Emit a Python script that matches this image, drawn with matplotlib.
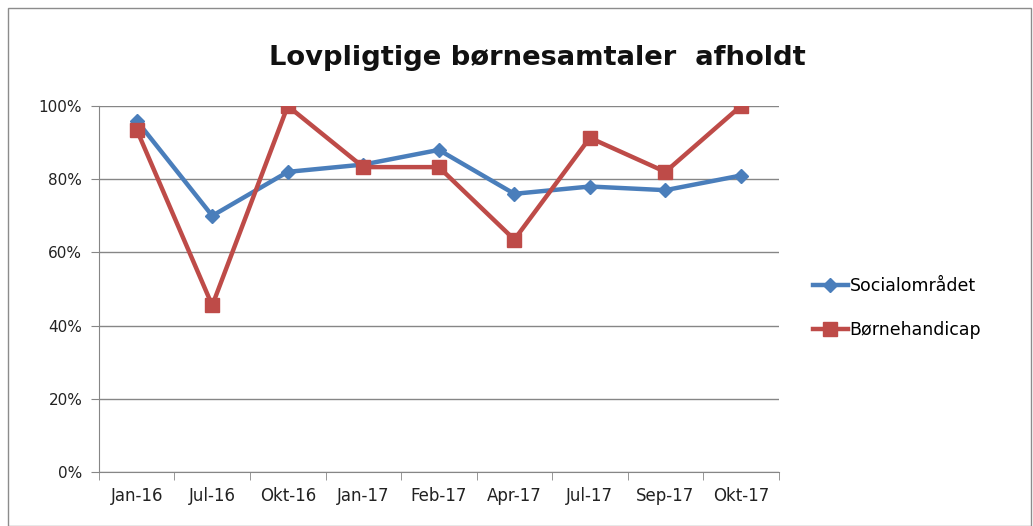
import matplotlib.pyplot as plt
import numpy as np
from matplotlib.patches import Rectangle
from matplotlib.ticker import FixedLocator, PercentFormatter

# data
maaneder = ["Jan-16", "Jul-16", "Okt-16", "Jan-17", "Feb-17", "Apr-17", "Jul-17", "Sep-17", "Okt-17"]
socialomraadet = [96, 70, 82, 84, 88, 76, 78, 77, 81]
boernehandicap = [93.5, 45.5, 100, 83.3, 83.3, 63.5, 91.3, 82, 100]
y_ticks = [0, 20, 40, 60, 80, 100]

blaa = "#4A7EBB"
roed = "#BE4B48"

fig = plt.figure(figsize=(10.33, 5.26), dpi=100)
fig.patches.append(Rectangle((0.008, 0.0), 0.99, 0.985, transform=fig.transFigure,
                             fill=False, edgecolor="#8C8C8C", lw=1))

ax = fig.add_axes([0.0958, 0.1027, 0.658, 0.6958])
x = np.arange(len(maaneder))

ax.plot(x, socialomraadet, color=blaa, lw=3.2, marker="D", ms=7.5,
        label="Socialområdet", zorder=3)
ax.plot(x, boernehandicap, color=roed, lw=3.2, marker="s", ms=10,
        label="Børnehandicap", zorder=4)

ax.set_xlim(-0.5, len(maaneder) - 0.5)
ax.set_ylim(0, 100)
ax.set_yticks(y_ticks)
ax.yaxis.set_major_formatter(PercentFormatter(decimals=0))
ax.set_xticks(x)
ax.set_xticklabels(maaneder)
ax.xaxis.set_minor_locator(FixedLocator(np.arange(-0.5, len(maaneder), 1)))
ax.tick_params(axis="x", which="major", length=0, pad=11, labelsize=12, colors="#222222")
ax.tick_params(axis="x", which="minor", length=6, color="#868686", direction="out")
ax.tick_params(axis="y", length=6, color="#868686", labelsize=11, labelcolor="#222222", pad=6)

ax.grid(axis="y", color="#868686", lw=1)
ax.set_axisbelow(True)
for s in ["top", "right"]:
    ax.spines[s].set_visible(False)
ax.spines["left"].set_color("#868686")
ax.spines["bottom"].set_color("#868686")

fig.text(0.52, 0.89, "Lovpligtige børnesamtaler  afholdt", ha="center", va="center",
         fontsize=19.7, fontweight="bold", color="#111111")

fig.legend(loc="center left", bbox_to_anchor=(0.772, 0.415), frameon=False,
           fontsize=12.5, labelspacing=1.5, handlelength=2.0, handletextpad=0.1)

fig.savefig("out.png", dpi=100)
